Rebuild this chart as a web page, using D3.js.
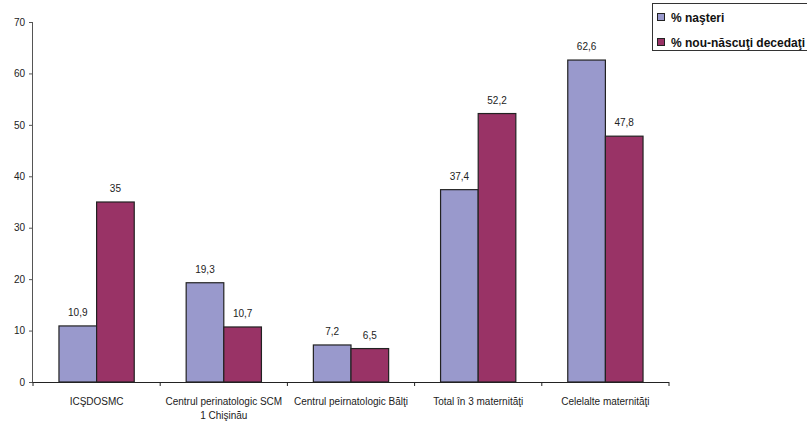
<!DOCTYPE html>
<html>
<head>
<meta charset="utf-8">
<script src="https://cdn.jsdelivr.net/npm/d3@7"></script>
<style>
  html, body { margin: 0; padding: 0; background: #fff; }
  svg { display: block; font-family: "Liberation Sans", Arial, sans-serif; }
</style>
</head>
<body>
<svg id="chart" width="807" height="423"></svg>
<script>
// Categories (maternity units) and the two series, in percent
const categories = [
  ["ICŞDOSMC"],
  ["Centrul perinatologic SCM", "1 Chişinău"],
  ["Centrul peirnatologic Bălţi"],
  ["Total în 3 maternităţi"],
  ["Celelalte maternităţi"]
];
const seriesNames = ["% naşteri", "% nou-născuţi decedaţi"];
const births = [10.9, 19.3, 7.2, 37.4, 62.6];
const deceased = [35, 10.7, 6.5, 52.2, 47.8];
const labelsBirths = ["10,9", "19,3", "7,2", "37,4", "62,6"];
const labelsDeceased = ["35", "10,7", "6,5", "52,2", "47,8"];
const yTicks = [0, 10, 20, 30, 40, 50, 60, 70];
const colors = ["#9999CC", "#993366"];

const svg = d3.select("#chart");
const plotLeft = 33, plotRight = 669, plotTop = 22, plotBottom = 382;

const x0 = d3.scaleBand().domain(d3.range(categories.length)).range([plotLeft, plotRight]).paddingInner(0).paddingOuter(0);
const x1 = d3.scaleBand().domain([0, 1]).range([0, x0.bandwidth()]).paddingOuter(0.69).paddingInner(0);
const y = d3.scaleLinear().domain([0, 70]).range([plotBottom, plotTop]);

// Y axis
const yAxis = svg.append("g")
  .attr("transform", `translate(${plotLeft},0)`)
  .call(d3.axisLeft(y).tickValues(yTicks).tickSize(4).tickPadding(4).tickFormat(d3.format("d")));
yAxis.select(".domain").attr("stroke", "#555").attr("d", `M-0.5,${plotTop}V${plotBottom}`);
yAxis.selectAll(".tick line").attr("stroke", "#555");
yAxis.selectAll(".tick text").attr("font-size", 10).attr("fill", "#222")
  .attr("font-family", "'Liberation Sans', Arial, sans-serif");

// Bars and value labels
const series = [births, deceased];
const labels = [labelsBirths, labelsDeceased];
series.forEach((vals, s) => {
  svg.append("g").selectAll("rect")
    .data(vals)
    .join("rect")
    .attr("x", (d, i) => x0(i) + x1(s))
    .attr("y", d => y(d))
    .attr("width", x1.bandwidth())
    .attr("height", d => y(0) - y(d))
    .attr("fill", colors[s])
    .attr("stroke", "#222")
    .attr("stroke-width", 1.2);

  svg.append("g").selectAll("text")
    .data(vals)
    .join("text")
    .attr("x", (d, i) => x0(i) + x1(s) + x1.bandwidth() / 2)
    .attr("y", d => y(d) - 10)
    .attr("text-anchor", "middle")
    .attr("font-size", 10)
    .attr("fill", "#222")
    .text((d, i) => labels[s][i]);
});

// X axis with ticks at category boundaries
const xg = svg.append("g");
xg.append("line")
  .attr("x1", plotLeft).attr("x2", plotRight)
  .attr("y1", plotBottom + 0.5).attr("y2", plotBottom + 0.5)
  .attr("stroke", "#222");
xg.selectAll("line.tk")
  .data(d3.range(categories.length + 1))
  .join("line")
  .attr("class", "tk")
  .attr("x1", i => i < categories.length ? x0(i) : plotRight)
  .attr("x2", i => i < categories.length ? x0(i) : plotRight)
  .attr("y1", plotBottom).attr("y2", plotBottom + 4)
  .attr("stroke", "#222");
xg.selectAll("text")
  .data(categories)
  .join("text")
  .attr("x", (d, i) => x0(i) + x0.bandwidth() / 2)
  .attr("y", 405)
  .attr("text-anchor", "middle")
  .attr("font-size", 10)
  .attr("fill", "#222")
  .selectAll("tspan")
  .data(d => d)
  .join("tspan")
  .attr("x", function() { return d3.select(this.parentNode).attr("x"); })
  .attr("dy", (d, i) => i === 0 ? 0 : 14)
  .text(d => d);

// Legend
const lg = svg.append("g");
lg.append("rect")
  .attr("x", 652.5).attr("y", 3.5)
  .attr("width", 170).attr("height", 47)
  .attr("fill", "#fff").attr("stroke", "#333");
seriesNames.forEach((name, i) => {
  const cy = 17 + i * 25;
  lg.append("rect")
    .attr("x", 657.5).attr("y", cy - 3.5)
    .attr("width", 7).attr("height", 7)
    .attr("fill", colors[i]).attr("stroke", "#222");
  lg.append("text")
    .attr("x", 671).attr("y", cy + 4.5)
    .attr("font-size", 12).attr("font-weight", "bold")
    .attr("fill", "#111")
    .text(name);
});
</script>
</body>
</html>
